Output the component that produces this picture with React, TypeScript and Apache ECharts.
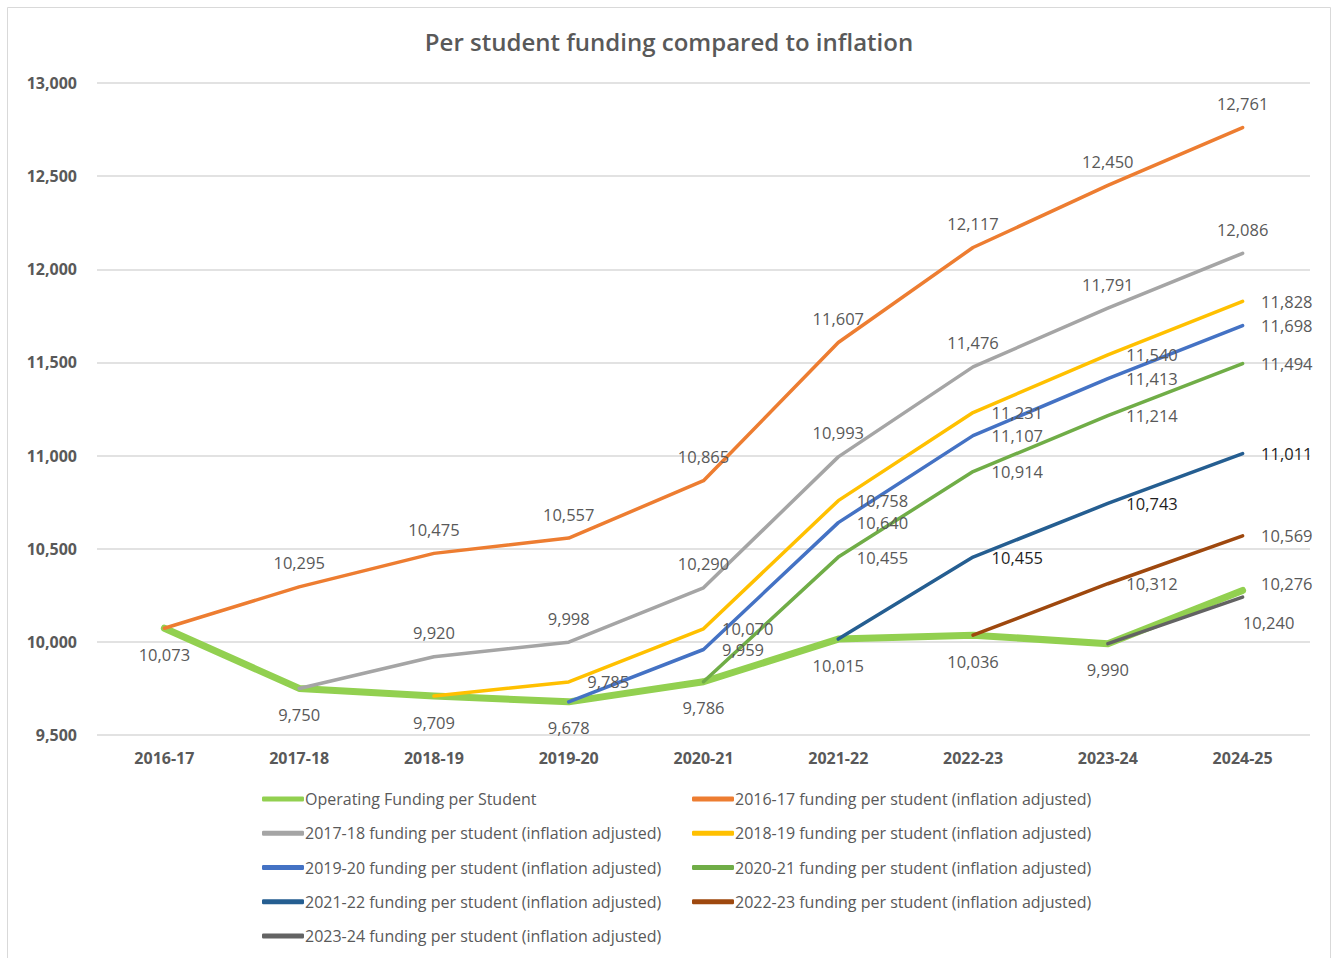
import React, { useEffect, useRef } from "react";
import * as echarts from "echarts";

const categories = ["2016-17", "2017-18", "2018-19", "2019-20", "2020-21", "2021-22", "2022-23", "2023-24", "2024-25"];
const operating = [10073, 9750, 9709, 9678, 9786, 10015, 10036, 9990, 10276];
const adj1617 = [10073, 10295, 10475, 10557, 10865, 11607, 12117, 12450, 12761];
const adj1718 = [null, 9750, 9920, 9998, 10290, 10993, 11476, 11791, 12086];
const adj1819 = [null, null, 9709, 9785, 10070, 10758, 11231, 11540, 11828];
const adj1920 = [null, null, null, 9678, 9959, 10640, 11107, 11413, 11698];
const adj2021 = [null, null, null, null, 9786, 10455, 10914, 11214, 11494];
const adj2122 = [null, null, null, null, null, 10015, 10455, 10743, 11011];
const adj2223 = [null, null, null, null, null, null, 10036, 10312, 10569];
const adj2324 = [null, null, null, null, null, null, null, 9990, 10240];
const yTicks = { min: 9500, max: 13000, interval: 500 };

const FONT = "'Open Sans', 'Noto Sans', sans-serif";
const LABEL_GRAY = "#595959";

const fmt = (v: number) => v.toLocaleString("en-US");

export default function App() {
  const ref = useRef<HTMLDivElement>(null);
  useEffect(() => {
    if (!ref.current) return;
    const chart = echarts.init(ref.current, null, { renderer: "svg" });

    const mk = (
      name: string,
      values: (number | null)[],
      color: string,
      position: string,
      opts: any = {}
    ) => {
      let first = true;
      const data = values.map((v) => {
        if (v === null) return null;
        if (first && opts.hideFirst) {
          first = false;
          return { value: v, label: { show: false } };
        }
        first = false;
        return v;
      });
      return {
        name,
        type: "line",
        data,
        symbol: "circle",
        symbolSize: 1,
        showSymbol: true,
        connectNulls: false,
        itemStyle: { color },
        lineStyle: { color, width: opts.width || 3.5, cap: "round", join: "round" },
        z: opts.z || 2,
        label: {
          show: true,
          position,
          distance: opts.distance ?? 15,
          offset: opts.offset || [0, 0],
          color: opts.labelColor || LABEL_GRAY,
          fontFamily: FONT,
          fontSize: 16.5,
          formatter: (p: any) => fmt(p.value),
        },
        emphasis: { disabled: true },
      };
    };

    const opSeries: any = mk("Operating Funding per Student", operating, "#92D050", "bottom", { width: 7, distance: 17, z: 1 });
    opSeries.data = operating.map((v, i) =>
      i === operating.length - 1
        ? { value: v, label: { position: "right", distance: 18, offset: [0, -7] } }
        : v
    );

    const series = [
      opSeries,
      mk("2016-17 funding per student (inflation adjusted)", adj1617, "#ED7D31", "top", { hideFirst: true, distance: 15 }),
      mk("2017-18 funding per student (inflation adjusted)", adj1718, "#A5A5A5", "top", { hideFirst: true, distance: 15 }),
      mk("2018-19 funding per student (inflation adjusted)", adj1819, "#FFC000", "right", { hideFirst: true, distance: 18 }),
      mk("2019-20 funding per student (inflation adjusted)", adj1920, "#4472C4", "right", { hideFirst: true, distance: 18 }),
      mk("2020-21 funding per student (inflation adjusted)", adj2021, "#70AD47", "right", { hideFirst: true, distance: 18 }),
      mk("2021-22 funding per student (inflation adjusted)", adj2122, "#255E91", "right", { hideFirst: true, distance: 18, labelColor: "#1f1f1f" }),
      mk("2022-23 funding per student (inflation adjusted)", adj2223, "#9E480E", "right", { hideFirst: true, distance: 18 }),
      mk("2023-24 funding per student (inflation adjusted)", adj2324, "#636363", "bottom", { hideFirst: true, distance: 16, offset: [26, 0] }),
    ];

    const col1 = [series[0].name, series[2].name, series[4].name, series[6].name, series[8].name];
    const col2 = [series[1].name, series[3].name, series[5].name, series[7].name];

    const legendBase = {
      orient: "vertical",
      top: 791,
      padding: 0,
      icon: "roundRect",
      itemWidth: 42,
      itemHeight: 5,
      itemGap: 18.25,
      textStyle: { fontFamily: FONT, fontSize: 16, color: LABEL_GRAY, padding: [0, 0, 0, -4] },
      selectedMode: false,
    };

    chart.setOption({
      animation: false,
      backgroundColor: "#ffffff",
      title: {
        text: "Per student funding compared to inflation",
        left: "center",
        top: 24,
        textStyle: { fontFamily: FONT, fontSize: 24, fontWeight: 600, color: LABEL_GRAY },
      },
      graphic: [
        {
          type: "rect",
          shape: { x: 7.5, y: 7.5, width: 1323, height: 970 },
          style: { fill: "none", stroke: "#d9d9d9", lineWidth: 1 },
          silent: true,
        },
      ],
      legend: [
        { ...legendBase, left: 262, data: col1 },
        { ...legendBase, left: 692, data: col2 },
      ],
      grid: { left: 97, right: 28, top: 83, bottom: 223, containLabel: false },
      xAxis: {
        type: "category",
        data: categories,
        boundaryGap: true,
        axisLine: { show: false },
        axisTick: { show: false },
        axisLabel: { fontFamily: FONT, fontSize: 16, fontWeight: "bold", color: LABEL_GRAY, margin: 15 },
      },
      yAxis: {
        type: "value",
        min: yTicks.min,
        max: yTicks.max,
        interval: yTicks.interval,
        axisLine: { show: false },
        axisTick: { show: false },
        splitLine: { lineStyle: { color: "#d9d9d9", width: 1.5 } },
        axisLabel: { fontFamily: FONT, fontSize: 16, fontWeight: "bold", color: LABEL_GRAY, margin: 20, formatter: (v: number) => fmt(v) },
      },
      series,
    });
    return () => chart.dispose();
  }, []);

  return (
    <div style={{ position: "fixed", left: 0, top: 0, width: 1338, height: 958, overflow: "hidden", background: "#fff" }}>
      <div ref={ref} style={{ width: 1338, height: 958 }} />
    </div>
  );
}
